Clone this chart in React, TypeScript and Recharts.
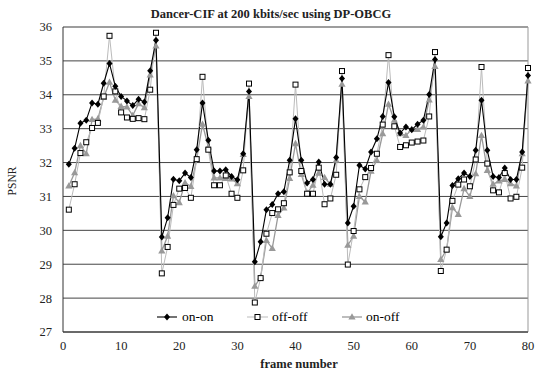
import { CartesianGrid, Legend, Line, LineChart, ReferenceLine, XAxis, YAxis } from "recharts"

const frames = [
  1, 2, 3, 4, 5, 6, 7, 8, 9, 10, 11, 12, 13, 14, 15, 16, 17, 18, 19, 20,
  21, 22, 23, 24, 25, 26, 27, 28, 29, 30, 31, 32, 33, 34, 35, 36, 37, 38, 39, 40,
  41, 42, 43, 44, 45, 46, 47, 48, 49, 50, 51, 52, 53, 54, 55, 56, 57, 58, 59, 60,
  61, 62, 63, 64, 65, 66, 67, 68, 69, 70, 71, 72, 73, 74, 75, 76, 77, 78, 79, 80,
]

const onOn = [
  31.95, 32.42, 33.16, 33.25, 33.76, 33.72, 34.34, 34.92, 34.25, 33.95,
  33.82, 33.68, 33.87, 33.79, 34.71, 35.61, 29.8, 30.37, 31.51, 31.46,
  31.69, 31.56, 32.38, 33.76, 32.66, 31.75, 31.75, 31.79, 31.59, 31.49,
  32.26, 34.1, 29.07, 29.66, 30.61, 30.76, 31.08, 31.14, 32.07, 33.29,
  32.07, 31.4, 31.5, 32.02, 31.36, 31.36, 32.15, 34.48, 30.22, 30.71,
  31.92, 31.81, 32.31, 32.7, 33.36, 34.36, 33.35, 32.87, 33.05, 32.97,
  33.13, 33.25, 34.01, 35.04, 29.81, 30.22, 31.32, 31.52, 31.69, 31.59,
  32.36, 33.84, 32.36, 31.59, 31.56, 31.84, 31.5, 31.5, 32.31, 34.57,
]

const offOff = [
  30.61, 31.36, 32.28, 32.6, 33.02, 33.17, 33.95, 35.74, 34.1, 33.48,
  33.33, 33.29, 33.31, 33.28, 34.15, 35.83, 28.73, 29.51, 30.75, 31.23,
  31.25, 30.96, 32.1, 34.53, 32.38, 31.33, 31.33, 31.62, 31.08, 30.96,
  31.77, 34.33, 27.87, 28.59, 29.9, 30.51, 30.62, 30.8, 31.71, 34.3,
  31.75, 31.08, 31.08, 31.85, 30.77, 30.94, 31.64, 34.7, 28.99, 29.98,
  31.21, 31.57, 31.84, 32.26, 33.12, 35.17, 33.07, 32.46, 32.51, 32.59,
  32.62, 32.65, 33.36, 35.26, 28.8, 29.43, 30.87, 31.35, 31.5, 31.3,
  32.09, 34.82, 31.97, 31.18, 31.12, 31.69, 30.94, 30.99, 31.85, 34.79,
]

const onOff = [
  31.31, 31.7, 32.5, 32.26, 33.27, 33.29, 33.92, 34.37, 33.84, 33.66,
  33.64, 33.39, 33.74, 33.62, 34.59, 35.44, 29.39, 29.83, 31.02, 30.82,
  31.4, 31.3, 32.1, 33.13, 32.46, 31.55, 31.55, 31.53, 31.52, 31.38,
  32.24, 33.95, 28.35, 28.62, 29.7, 29.47, 30.44, 30.66, 31.53, 32.56,
  31.65, 31.1, 31.33, 31.69, 31.56, 31.36, 32.07, 34.31, 29.56, 29.83,
  31.0, 30.84, 31.75, 32.07, 32.85, 33.72, 33.25, 32.85, 32.8, 32.98,
  32.98, 33.05, 33.85, 34.84, 29.14, 29.43, 30.67, 30.47, 31.23, 31.0,
  31.67, 32.8, 31.77, 31.36, 31.46, 31.5, 31.38, 31.31, 32.26, 34.41,
]

const xTicks = [0, 10, 20, 30, 40, 50, 60, 70, 80]
const yTicks = [27, 28, 29, 30, 31, 32, 33, 34, 35, 36]

const data = frames.map((f, i) => ({ frame: f, onOn: onOn[i], offOff: offOff[i], onOff: onOff[i] }))

// times-like face for every label
const serif = "Liberation Serif, DejaVu Serif, serif"

const diamondPath = (cx: number, cy: number) => `M${cx},${cy - 3.5}L${cx + 3},${cy}L${cx},${cy + 3.5}L${cx - 3},${cy}Z`
const trianglePath = (cx: number, cy: number) => `M${cx},${cy - 3.8}L${cx + 3.6},${cy + 2.6}L${cx - 3.6},${cy + 2.6}Z`

function DiamondDot(props: any) {
  const { cx, cy, index } = props
  if (cx == null || cy == null) return <g key={`d${index}`} />
  return <path key={`d${index}`} d={diamondPath(cx, cy)} fill="#000" />
}

function SquareDot(props: any) {
  const { cx, cy, index } = props
  if (cx == null || cy == null) return <g key={`s${index}`} />
  return <rect key={`s${index}`} x={cx - 2.5} y={cy - 2.5} width={5} height={5} fill="#fff" stroke="#000" strokeWidth={1} />
}

function TriangleDot(props: any) {
  const { cx, cy, index } = props
  if (cx == null || cy == null) return <g key={`t${index}`} />
  return <path key={`t${index}`} d={trianglePath(cx, cy)} fill="#999" />
}

function ChartLegend() {
  const y = 10
  return (
    <svg width={551} height={20} style={{ display: "block" }}>
      <line x1={157} x2={177} y1={y} y2={y} stroke="#000" strokeWidth={1.1} />
      <path d={diamondPath(167, y)} fill="#000" />
      <text x={182} y={y + 4} fontSize={13.5} fontFamily={serif} fill="#000">on-on</text>
      <line x1={247} x2={268} y1={y} y2={y} stroke="#bbb" strokeWidth={1} />
      <rect x={255} y={y - 2.5} width={5} height={5} fill="#fff" stroke="#000" />
      <text x={272} y={y + 4} fontSize={13.5} fontFamily={serif} fill="#000">off-off</text>
      <line x1={342} x2={362} y1={y} y2={y} stroke="#999" strokeWidth={1.3} />
      <path d={trianglePath(352, y)} fill="#999" />
      <text x={366} y={y + 4} fontSize={13.5} fontFamily={serif} fill="#000">on-off</text>
    </svg>
  )
}

export default function App() {
  return (
    <div style={{ position: "absolute", left: 0, top: 0, width: 551, height: 372, background: "#fff" }}>
      <LineChart width={551} height={372} data={data} margin={{ top: 27, right: 23, bottom: 4, left: 12 }}>
        <CartesianGrid vertical={false} stroke="#444" />
        <XAxis
          dataKey="frame"
          type="number"
          domain={[0, 80]}
          ticks={xTicks}
          height={36}
          tickLine={false}
          tickSize={6}
          tickMargin={3}
          stroke="#333"
          tick={{ fontSize: 12.5, fill: "#222", fontFamily: serif }}
        />
        <YAxis
          type="number"
          domain={[27, 36]}
          ticks={yTicks}
          width={51}
          tickLine={false}
          tickSize={0}
          tickMargin={11}
          stroke="#333"
          tick={{ fontSize: 12.5, fill: "#222", fontFamily: serif }}
        />
        <ReferenceLine x={80} stroke="#999" />
        <ReferenceLine y={36} stroke="#999" />
        <Legend verticalAlign="middle" align="center" wrapperStyle={{ left: 0, top: 307, width: 551 }} content={() => <ChartLegend />} />
        <Line dataKey="onOff" name="on-off" stroke="#999" strokeWidth={1.3} dot={TriangleDot} activeDot={false} isAnimationActive={false} />
        <Line dataKey="offOff" name="off-off" stroke="#bbb" strokeWidth={1} dot={SquareDot} activeDot={false} isAnimationActive={false} />
        <Line dataKey="onOn" name="on-on" stroke="#000" strokeWidth={1.1} dot={DiamondDot} activeDot={false} isAnimationActive={false} />
      </LineChart>
      <svg width={551} height={372} style={{ position: "absolute", left: 0, top: 0, pointerEvents: "none" }}>
        <text x={271} y={17.5} textAnchor="middle" fontSize={12.5} fontWeight="bold" fontFamily={serif} fill="#222">
          Dancer-CIF at 200 kbits/sec using DP-OBCG
        </text>
        <text x={0} y={0} transform="translate(16,181) rotate(-90)" textAnchor="middle" fontSize={11.5} fontFamily={serif} fill="#222">
          PSNR
        </text>
        <text x={299} y={368} textAnchor="middle" fontSize={12.5} fontWeight="bold" fontFamily={serif} fill="#222">
          frame number
        </text>
      </svg>
    </div>
  )
}
